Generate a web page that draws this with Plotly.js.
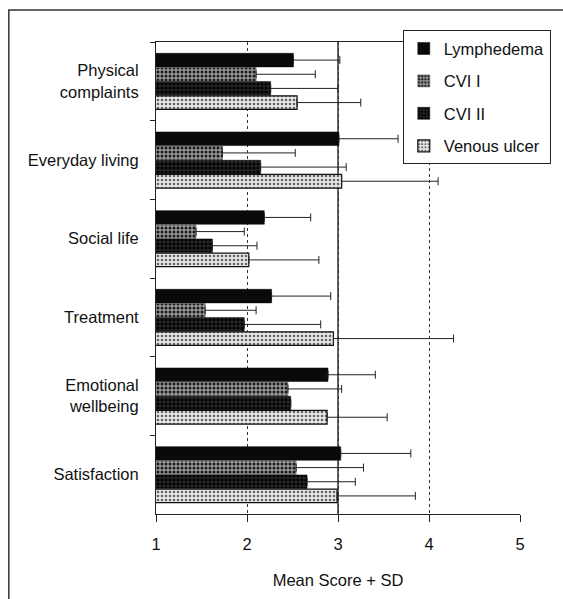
<!DOCTYPE html>
<html>
<head>
<meta charset="utf-8">
<script src="https://cdn.plot.ly/plotly-3.0.1.min.js"></script>
<style>html,body{margin:0;padding:0;background:#fff;}#chart{width:563px;height:599px;}</style>
</head>
<body>
<div id="chart"></div>
<script>
// Data
var categories = ['Physical<br>complaints', 'Everyday living', 'Social life', 'Treatment', 'Emotional<br>wellbeing', 'Satisfaction'];
var seriesNames = ['Lymphedema', 'CVI I', 'CVI II', 'Venous ulcer'];
var lymphedemaMean = [2.51, 3.01, 2.19, 2.27, 2.89, 3.03];
var lymphedemaSD   = [0.51, 0.65, 0.51, 0.65, 0.52, 0.77];
var cvi1Mean       = [2.10, 1.73, 1.44, 1.54, 2.45, 2.54];
var cvi1SD         = [0.65, 0.80, 0.53, 0.56, 0.59, 0.74];
var cvi2Mean       = [2.26, 2.15, 1.62, 1.97, 2.48, 2.66];
var cvi2SD         = [0.74, 0.94, 0.49, 0.84, null, 0.53];
var venousMean     = [2.55, 3.04, 2.02, 2.95, 2.88, 2.99];
var venousSD       = [0.70, 1.06, 0.77, 1.32, 0.66, 0.86];
var xTickVals = [1, 2, 3, 4, 5];

var FONT = 'Liberation Sans, Arial, sans-serif';
var FS = 16.5;

function zeros(a){ return a.map(function(){ return 0; }); }

function mk(name, means, sds, marker, group){
  return {
    type: 'bar', orientation: 'h', name: name,
    x: means, y: categories, legendgroup: group,
    marker: marker,
    error_x: {type: 'data', array: sds, symmetric: false, arrayminus: zeros(sds),
              color: '#222', thickness: 1, width: 4},
    hoverinfo: 'x+y+name'
  };
}

var traces = [
  mk(seriesNames[0], lymphedemaMean, lymphedemaSD,
     {color: '#0a0a0a', line: {color: '#000', width: 0.5}}, 'g1'),
  mk(seriesNames[1], cvi1Mean, cvi1SD,
     {color: '#6e6e6e', line: {color: '#444', width: 0.5},
      pattern: {shape: '.', fgcolor: '#1a1a1a', bgcolor: '#9a9a9a', size: 4, solidity: 0.45}}, 'g2'),
  mk(seriesNames[2], cvi2Mean, cvi2SD,
     {color: '#111', line: {color: '#000', width: 0.5},
      pattern: {shape: '.', fgcolor: '#000', bgcolor: '#262626', size: 4, solidity: 0.5}}, 'g3'),
  mk(seriesNames[3], venousMean, venousSD,
     {color: '#d8d8d8', line: {color: '#111', width: 1.2},
      pattern: {shape: '.', fgcolor: '#666', bgcolor: '#e8e8e8', size: 4, solidity: 0.35}}, 'g4')
];

var layout = {
  width: 563, height: 599,
  margin: {l: 156, r: 41, t: 42, b: 85},
  paper_bgcolor: '#fff', plot_bgcolor: '#fff',
  font: {family: FONT, size: FS, color: '#111'},
  barmode: 'group', bargap: 0.28, bargroupgap: 0.04,
  showlegend: true,
  legend: {
    x: 0.678, xanchor: 'left', y: 1.025, yanchor: 'top',
    bordercolor: '#222', borderwidth: 1, bgcolor: '#fff',
    font: {family: FONT, size: FS, color: '#111'},
    traceorder: 'grouped', tracegroupgap: 8,
    itemwidth: 30
  },
  xaxis: {
    range: [1, 5], tickvals: xTickVals, ticktext: xTickVals.map(String),
    showgrid: true, gridcolor: '#333', gridwidth: 1, griddash: 'dot',
    zeroline: false, showline: true, linecolor: '#222', linewidth: 1, mirror: true,
    ticks: 'outside', ticklen: 7, tickcolor: '#222',
    ticklabelstandoff: 8,
    tickfont: {family: FONT, size: FS, color: '#111'},
    title: {text: 'Mean Score + SD', font: {family: FONT, size: FS, color: '#111'}, standoff: 22}
  },
  yaxis: {
    type: 'category', autorange: 'reversed',
    showgrid: false, zeroline: false, showline: true, linecolor: '#222', linewidth: 1,
    ticks: 'outside', ticklen: 5, tickcolor: '#222', tickson: 'boundaries',
    tickfont: {family: FONT, size: FS, color: '#111'},
    ticklabelstandoff: 13
  },
  shapes: [
    {type: 'rect', xref: 'paper', yref: 'paper',
     x0: (8 - 156) / 366, x1: 1.15, y0: -0.2, y1: (514 - 10) / 472,
     line: {color: '#333', width: 1.5}, fillcolor: 'rgba(0,0,0,0)', layer: 'below'},
    {type: 'line', xref: 'x', yref: 'paper', x0: 3, x1: 3, y0: 0, y1: 1,
     line: {color: '#111', width: 1.3}, layer: 'below'}
  ]
};

Plotly.newPlot('chart', traces, layout, {displayModeBar: false, staticPlot: true});
</script>
</body>
</html>
